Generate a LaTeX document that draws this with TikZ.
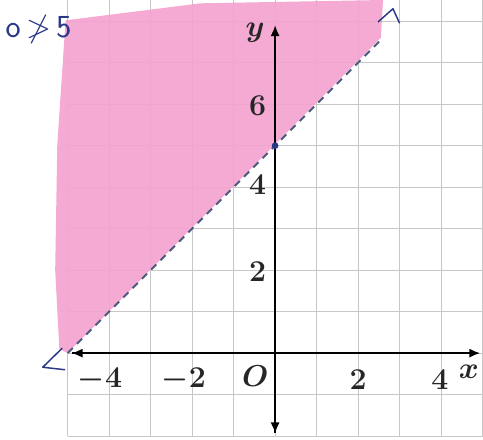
\documentclass[tikz,border=0pt]{standalone}
\usepackage{amssymb}
\usetikzlibrary{arrows.meta}
\definecolor{pinkfill}{RGB}{243,163,206}
\definecolor{pen}{RGB}{40,55,135}
\definecolor{boundary}{RGB}{75,90,125}
\begin{document}
\begin{tikzpicture}[>={Latex[length=2.6mm,width=2.2mm]},
  gridline/.style={black!22, line width=0.7pt},
  axis/.style={->, line width=1pt},
  ticklabel/.style={inner sep=0pt, text=black!85, font=\fontsize{21}{23}\selectfont\boldmath}]
\useasboundingbox (-6.63,-2.07) rectangle (5.01,8.51);

% Square grid
\draw[gridline] (-5,-2) grid (5,8.51);

% Shaded half-plane y > x + 5
\fill[pinkfill, fill opacity=0.92] (-5,0) -- (-5.2,0.1) -- (-5.3,2) -- (-5.25,5)
  -- (-5.05,8.02) -- (-1.8,8.43) -- (2.6,8.51) -- (2.55,7.6) -- cycle;

% Axes
\draw[axis] (-4.9,0) -- (4.94,0);
\draw[axis] (-4.88,0) -- (-4.9,0);
\draw[axis] (0,-1.93) -- (0,7.9);
\draw[axis] (0,-1.9) -- (0,-1.93);

% Boundary line y = x + 5 (dashed)
\draw[boundary, line width=1.3pt, dash pattern=on 5pt off 4pt] (-5,0) -- (2.6,7.6);
\fill[pen] (0,5) circle (2.3pt);

% Hand-drawn marks
\draw[pen, line width=1pt, line join=round] (-5.13,0.12) -- (-5.6,-0.34) -- (-5.06,-0.4);
\draw[pen, line width=1pt, line join=round] (2.48,7.98) -- (2.84,8.3) -- (3.0,7.95);
\node[pen, inner sep=0pt, font=\sffamily\fontsize{22}{24}\selectfont] (test) at (-5.7,7.8) {o\,$\ngtr$\,5};

% Labels on the axes
\node[ticklabel] (xm4) at (-4.22,-0.65) {$-4$};
\node[ticklabel] (xm2) at (-2.2,-0.65) {$-2$};
\node[ticklabel] (orig) at (-0.48,-0.55) {$O$};
\node[ticklabel] (xp2) at (2.0,-0.65) {$2$};
\node[ticklabel] (xp4) at (3.97,-0.65) {$4$};
\node[ticklabel] (xlab) at (4.67,-0.45) {$x$};
\node[ticklabel] (yp2) at (-0.42,1.95) {$2$};
\node[ticklabel] (yp4) at (-0.42,4.05) {$4$};
\node[ticklabel] (yp6) at (-0.42,5.97) {$6$};
\node[ticklabel] (ylab) at (-0.48,7.73) {$y$};
\end{tikzpicture}
\end{document}
